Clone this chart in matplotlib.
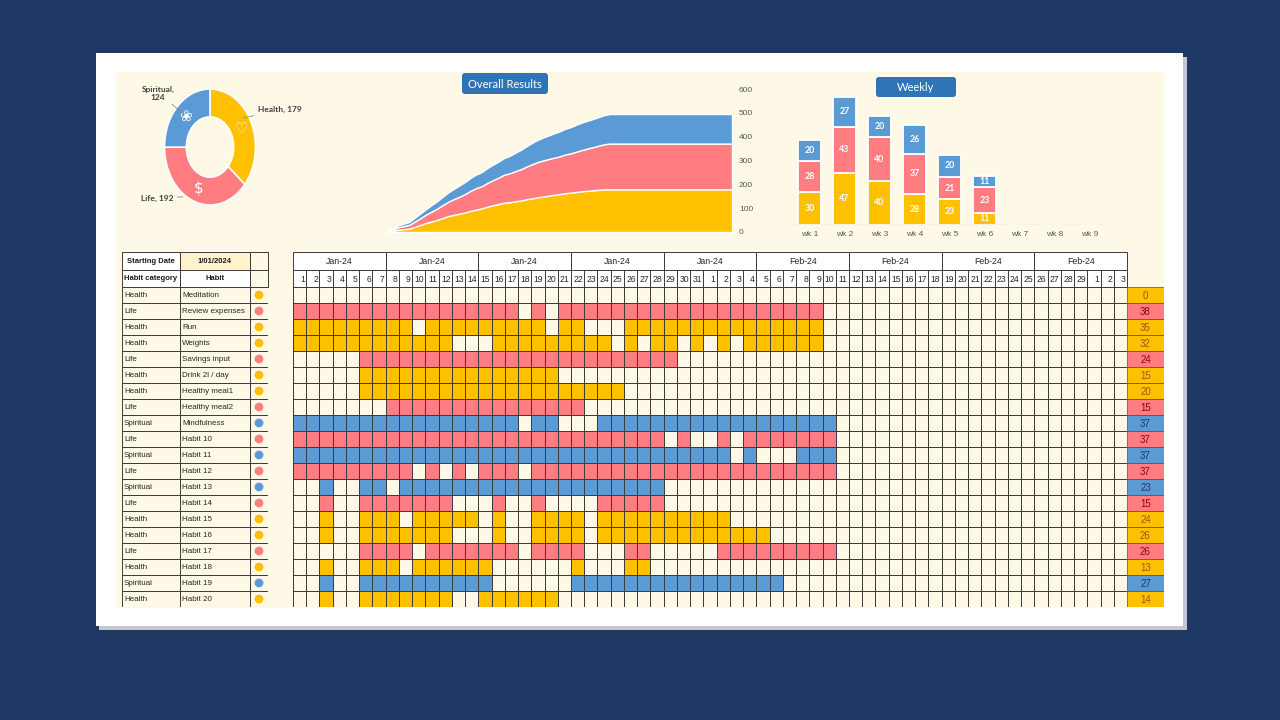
import numpy as np
import pandas as pd
import matplotlib
matplotlib.use("Agg")
import matplotlib.pyplot as plt
from matplotlib.colors import ListedColormap
from matplotlib.patches import Rectangle, FancyBboxPatch

# ---- values ----
start_date = "2024-01-01"
n_days = 63
category_names = ["Health", "Life", "Spiritual"]
habits = ["Meditation", "Review expenses", "Run", "Weights", "Savings input",
          "Drink 2l / day", "Healthy meal1", "Healthy meal2", "Mindfulness",
          "Habit 10", "Habit 11", "Habit 12", "Habit 13", "Habit 14", "Habit 15",
          "Habit 16", "Habit 17", "Habit 18", "Habit 19", "Habit 20"]
habit_category = ["Health", "Life", "Health", "Health", "Life", "Health", "Health",
                  "Life", "Spiritual", "Life", "Spiritual", "Life", "Spiritual",
                  "Life", "Health", "Health", "Life", "Health", "Spiritual", "Health"]
# ticked days per habit, day 1 = 1 Jan 2024
done_days = ["",
             "1-17,19,21-40",
             "1-9,11-19,21-22,26-40",
             "1-12,16-24,26,28-29,31,33,35-40",
             "6-29",
             "6-20",
             "6-25",
             "8-22",
             "1-17,19-20,24-41",
             "1-28,30,33,35-41",
             "1-33,35,39-41",
             "1-9,11,13,15-17,19-41",
             "3,6-7,9-28",
             "3,6-12,16,19,24-28",
             "3,6-8,10-14,16,19-22,24-33",
             "3,6-12,16,19-22,24-36",
             "6-9,11-17,19-22,26-27,33-41",
             "3,6-8,10-15,22,26-27",
             "3,6-15,22-37",
             "3,6-12,15-20"]

cat_colors = ["#FFC000", "#FF7C80", "#5B9BD5"]
count_text_colors = ["#9C5700", "#9C0006", "#1F3864"]
icons = ["\u2661", "$", "\u2740"]
cream = "#FEF8E6"
grid_line = "#3C3C3C"
navy = "#203864"
button_blue = "#2E75B6"

W, H = 1280, 720


def parse_days(spec):
    out = []
    for part in filter(None, spec.split(",")):
        a, _, b = part.partition("-")
        out.extend(range(int(a), int(b or a) + 1))
    return np.array(out, dtype=int)


def box(x, y, w, h):
    # pixel box with top-left origin -> figure fraction rect
    return [x / W, 1 - (y + h) / H, w / W, h / H]


done = np.zeros((len(habits), n_days), dtype=int)
for i, spec in enumerate(done_days):
    done[i, parse_days(spec) - 1] = 1

cat_idx = np.array([category_names.index(c) for c in habit_category])
state = done * (cat_idx[:, None] + 1)
counts = done.sum(axis=1)
daily = np.array([done[cat_idx == k].sum(axis=0) for k in range(3)])
cumulative = daily.cumsum(axis=1)
weekly = daily.reshape(3, n_days // 7, 7).sum(axis=2)
totals = cumulative[:, -1]

dates = pd.date_range(start_date, periods=n_days)
day_labels = dates.day
week_labels = dates[::7].strftime("%b-%y")

plt.rcParams["font.family"] = ["Liberation Sans Narrow", "Liberation Sans", "DejaVu Sans"]

fig = plt.figure(figsize=(12.8, 7.2), dpi=100)
fig.patch.set_facecolor(navy)


def fig_rect(x, y, w, h, color):
    l, b, ww, hh = box(x, y, w, h)
    fig.patches.append(Rectangle((l, b), ww, hh, transform=fig.transFigure,
                                 facecolor=color, edgecolor="none", zorder=-10))


fig_rect(99, 57, 1088, 573, "#C3C8D0")
fig_rect(96, 53, 1087, 573, "white")
fig_rect(116, 72, 1048, 536, cream)


def button(x, y, w, h, label):
    bax = fig.add_axes(box(x, y, w, h))
    bax.axis("off")
    bax.add_patch(FancyBboxPatch((0, 0), 1, 1, boxstyle="round,pad=0,rounding_size=0.035",
                                 mutation_aspect=w / h, transform=bax.transAxes,
                                 facecolor=button_blue, edgecolor="none", clip_on=False))
    bax.text(0.5, 0.47, label, color="white", fontsize=8, ha="center", va="center",
             family=["Lato", "DejaVu Sans"], transform=bax.transAxes)


# ---- donut ----
ax = fig.add_axes(box(164.5, 89, 91, 116))
wedges, _ = ax.pie(totals, colors=cat_colors, startangle=90, counterclock=False,
                   wedgeprops=dict(width=0.48, edgecolor="white", linewidth=1.2))
ax.set_aspect("auto")
ax.set_xlim(-1, 1)
ax.set_ylim(-1, 1)
for w, icon in zip(wedges, icons):
    w.set_clip_on(False)
    ang = np.deg2rad((w.theta1 + w.theta2) / 2)
    ax.text(0.75 * np.cos(ang), 0.75 * np.sin(ang), icon, color="white", fontsize=11,
            ha="center", va="center", family="DejaVu Sans")
label_pos = [(1.05, 0.64, "left"), (-0.81, -0.88, "right"), (-1.14, 0.93, "center")]
label_tip = [(0.73, 0.5), (-0.6, -0.86), (-0.56, 0.56)]
for k, name in enumerate(category_names):
    txt = f"{name},\n{totals[k]}" if name == "Spiritual" else f"{name}, {totals[k]}"
    lx, ly, ha = label_pos[k]
    ax.annotate(txt, xy=label_tip[k], xytext=(lx, ly), ha=ha, va="center",
                fontsize=6, fontweight="bold", color="#404040",
                family=["Lato", "DejaVu Sans"], annotation_clip=False,
                arrowprops=dict(arrowstyle="-", color="#8C8C8C", lw=0.6,
                                shrinkA=1, shrinkB=0))

# ---- overall results (cumulative stacked area) ----
button(462, 73, 86, 21, "Overall Results")
ax = fig.add_axes(box(387, 89, 345, 143))
ax.stackplot(np.arange(1, n_days + 1), cumulative, colors=cat_colors,
             edgecolor="white", linewidth=1.0)
ax.set_xlim(1, n_days)
ax.set_ylim(0, 600)
ax.set_yticks(range(0, 601, 100))
ax.set_xticks([])
ax.yaxis.tick_right()
ax.tick_params(axis="y", length=0, pad=5, labelsize=6, labelcolor="#595959")
for s in ax.spines.values():
    s.set_visible(False)
ax.patch.set_alpha(0)

# ---- weekly stacked bars ----
button(876, 77, 80, 20, "Weekly")
ax = fig.add_axes(box(792, 83, 315, 141.5))
xw = np.arange(weekly.shape[1])
bottom = np.zeros(weekly.shape[1])
for k in range(3):
    ax.bar(xw, weekly[k], bottom=bottom, width=0.66, color=cat_colors[k],
           edgecolor="white", linewidth=1.3)
    for x, v, b in zip(xw, weekly[k], bottom):
        if v > 0:
            ax.text(x, b + v / 2, str(v), ha="center", va="center", color="white",
                    fontsize=6.3, fontweight="bold", family=["Lato", "DejaVu Sans"])
    bottom = bottom + weekly[k]
ax.axhline(0, color="#D9D9D9", lw=1)
ax.set_xlim(-0.5, len(xw) - 0.5)
ax.set_ylim(0, 130)
ax.set_yticks([])
ax.set_xticks(xw, [f"wk {i + 1}" for i in xw])
ax.tick_params(axis="x", length=0, pad=5, labelsize=6, labelcolor="#595959")
for s in ax.spines.values():
    s.set_visible(False)
ax.patch.set_alpha(0)

# ---- left table ----
col_edges = [0, 58, 128, 146]
ax = fig.add_axes(box(122, 252, 146, 35))
ax.set_xlim(0, 146)
ax.set_ylim(2, 0)
ax.axis("off")
head_fill = [["white", "#FFF2CC", cream], ["white", "white", cream]]
head_text = [["Starting Date", "1/01/2024", ""], ["Habit category", "Habit", ""]]
for r in range(2):
    for c in range(3):
        ax.add_patch(Rectangle((col_edges[c], r), col_edges[c + 1] - col_edges[c], 1,
                               facecolor=head_fill[r][c], edgecolor=grid_line, lw=0.7,
                               clip_on=False))
        ax.text((col_edges[c] + col_edges[c + 1]) / 2, r + 0.52, head_text[r][c],
                ha="center", va="center", fontsize=5.5, fontweight="bold", color="#1A1A1A")

ax = fig.add_axes(box(122, 287, 146, 320))
ax.set_xlim(0, 146)
ax.set_ylim(20, 0)
ax.axis("off")
rows = np.arange(len(habits))
for c in range(3):
    ax.barh(rows, col_edges[c + 1] - col_edges[c], left=col_edges[c], height=1,
            align="edge", color=cream, edgecolor=grid_line, linewidth=0.7)
for r in rows:
    ax.text(col_edges[0] + 2, r + 0.55, habit_category[r], ha="left", va="center",
            fontsize=5.8, color="#262626")
    ax.text(col_edges[1] + 2, r + 0.55, habits[r], ha="left", va="center",
            fontsize=5.8, color="#262626")
ax.scatter(np.full(len(rows), (col_edges[2] + col_edges[3]) / 2), rows + 0.5, s=28,
           c=[cat_colors[k] for k in cat_idx], zorder=3)

# ---- day grid header ----
ax = fig.add_axes(box(293, 252, 834, 35))
ax.set_xlim(0, n_days)
ax.set_ylim(2, 0)
ax.axis("off")
ax.bar(np.arange(len(week_labels)) * 7, 1, width=7, bottom=0, align="edge",
       color="white", edgecolor=grid_line, linewidth=0.7, clip_on=False)
ax.bar(np.arange(n_days), 1, width=1, bottom=1, align="edge",
       color="white", edgecolor=grid_line, linewidth=0.7, clip_on=False)
for g, lab in enumerate(week_labels):
    ax.text(g * 7 + 3.5, 0.55, lab, ha="center", va="center", fontsize=6.3, color="#262626")
for d, lab in enumerate(day_labels):
    ax.text(d + 0.9, 1.55, str(lab), ha="right", va="center", fontsize=6.2, color="#262626")

# ---- day grid ----
ax = fig.add_axes(box(293, 287, 834, 320))
ax.pcolormesh(np.arange(n_days + 1), np.arange(len(habits) + 1), state,
              cmap=ListedColormap([cream] + cat_colors), vmin=-0.5, vmax=3.5,
              edgecolors=grid_line, linewidth=0.7)
ax.set_xlim(0, n_days)
ax.set_ylim(len(habits), 0)
ax.axis("off")

# ---- count column ----
ax = fig.add_axes(box(1127, 287, 37, 320))
ax.barh(rows, 1, height=1, align="edge", color=[cat_colors[k] for k in cat_idx],
        edgecolor="#5A4A3A", linewidth=0.5)
for r in rows:
    ax.text(0.5, r + 0.58, str(counts[r]), ha="center", va="center", fontsize=7,
            color=count_text_colors[cat_idx[r]])
ax.set_xlim(0, 1)
ax.set_ylim(len(habits), 0)
ax.axis("off")

fig.savefig("out.png", dpi=100, facecolor=fig.get_facecolor())
